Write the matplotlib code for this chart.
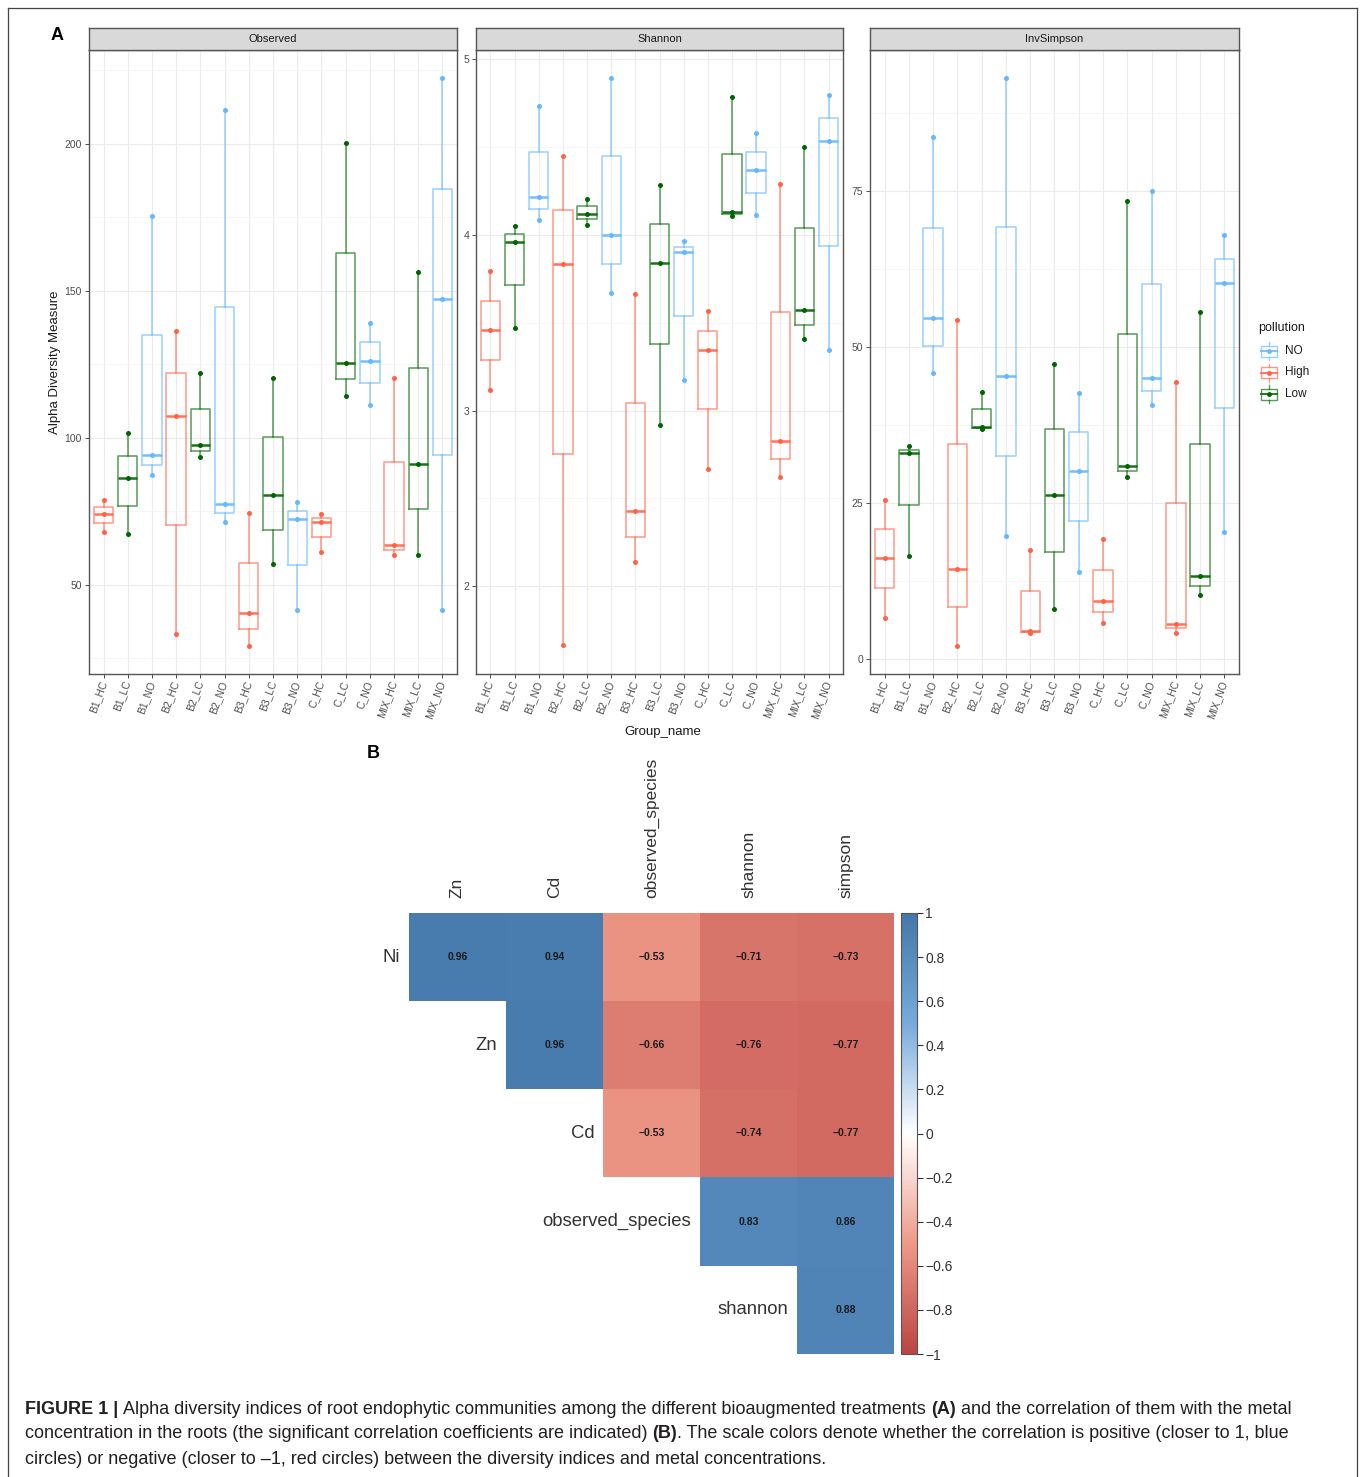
import numpy as np
import matplotlib
matplotlib.use('Agg')
import matplotlib.pyplot as plt
from matplotlib.colors import LinearSegmentedColormap
from matplotlib.patches import Rectangle

plt.rcParams['font.family'] = ['Liberation Sans', 'DejaVu Sans']

W, H = 1360, 1477

# ---- panel A data: three replicate values per group (min, median, max)
groups = ['B1_HC', 'B1_LC', 'B1_NO', 'B2_HC', 'B2_LC', 'B2_NO', 'B3_HC', 'B3_LC',
          'B3_NO', 'C_HC', 'C_LC', 'C_NO', 'MIX_HC', 'MIX_LC', 'MIX_NO']
pollution = ['High', 'Low', 'NO', 'High', 'Low', 'NO', 'High', 'Low',
             'NO', 'High', 'Low', 'NO', 'High', 'Low', 'NO']

observed = [[68, 74, 79], [67.3, 86.3, 101.5], [87.2, 94.3, 175.5], [33.3, 107.4, 136.4],
            [93.4, 97.4, 122.2], [71.3, 77.4, 211.5], [29.3, 40.5, 74.3], [57.1, 80.5, 120.3],
            [41.3, 72.4, 78.1], [61.2, 71.4, 74.1], [114.4, 125.4, 200.2], [111.2, 126.2, 139.2],
            [60.2, 63.4, 120.3], [60.2, 91.2, 156.4], [41.3, 147.3, 222.3]]
shannon = [[3.115, 3.46, 3.793], [3.473, 3.958, 4.053], [4.087, 4.214, 4.736], [1.667, 3.835, 4.451],
           [4.057, 4.121, 4.205], [3.668, 4.002, 4.892], [2.136, 2.428, 3.663], [2.918, 3.841, 4.287],
           [3.172, 3.903, 3.964], [2.67, 3.343, 3.566], [4.11, 4.131, 4.788], [4.114, 4.369, 4.58],
           [2.619, 2.826, 4.291], [3.405, 3.575, 4.503], [3.343, 4.534, 4.797]]
invsimpson = [[6.5, 16.1, 25.5], [16.4, 33.0, 34.1], [45.8, 54.6, 83.7], [2.1, 14.4, 54.4],
              [36.8, 37.2, 42.8], [19.7, 45.4, 93.1], [4.2, 4.4, 17.4], [8.0, 26.3, 47.3],
              [13.95, 30.1, 42.7], [5.7, 9.2, 19.2], [29.2, 30.9, 73.4], [40.7, 45.1, 75.0],
              [4.2, 5.5, 44.4], [10.15, 13.2, 55.7], [20.3, 60.3, 68.0]]

legend_order = ['NO', 'High', 'Low']
pal = {'NO': '#63B8FF', 'High': '#FF6347', 'Low': '#006400'}

# ---- panel B data
row_names = ['Ni', 'Zn', 'Cd', 'observed_species', 'shannon']
col_names = ['Zn', 'Cd', 'observed_species', 'shannon', 'simpson']
nan = np.nan
corr = np.array([[0.96, 0.94, -0.53, -0.71, -0.73],
                 [nan, 0.96, -0.66, -0.76, -0.77],
                 [nan, nan, -0.53, -0.74, -0.77],
                 [nan, nan, nan, 0.83, 0.86],
                 [nan, nan, nan, nan, 0.88]])
cb_ticks = [1, 0.8, 0.6, 0.4, 0.2, 0, -0.2, -0.4, -0.6, -0.8, -1]


def px(x0, y0, x1, y1):
    return [x0 / W, 1 - y1 / H, (x1 - x0) / W, (y1 - y0) / H]


fig = plt.figure(figsize=(W / 100, H / 100), dpi=100)

# overlay in pixel coords for frame, legend, labels
ov = fig.add_axes([0, 0, 1, 1])
ov.set_xlim(0, W)
ov.set_ylim(H, 0)
ov.axis('off')
ov.patch.set_alpha(0)
for xs, ys in [([8, 8], [8, H]), ([8, 1357], [8, 8]), ([1357, 1357], [8, H])]:
    ov.plot(xs, ys, color='#444444', lw=0.9)

ov.text(57, 36, 'A', fontsize=13, fontweight='bold', ha='center', va='center')
ov.text(373, 753, 'B', fontsize=13, fontweight='bold', ha='center', va='center')
ov.text(55, 362, 'Alpha Diversity Measure', rotation=90, fontsize=9.5, ha='center', va='center', color='#1a1a1a')
ov.text(663, 732, 'Group_name', fontsize=9.5, ha='center', va='center', color='#1a1a1a')


def draw_panel(x0, x1, name, vals, major, minor):
    ax = fig.add_axes(px(x0, 50, x1, 674))
    st = fig.add_axes(px(x0, 28, x1, 50))
    st.set_facecolor('#d9d9d9')
    st.set_xticks([])
    st.set_yticks([])
    for s in st.spines.values():
        s.set_color('#555555')
        s.set_linewidth(1.0)
    st.text(0.5, 0.5, name, transform=st.transAxes, ha='center', va='center', fontsize=8, color='#1a1a1a')

    for i, (p, v) in enumerate(zip(pollution, vals)):
        c = pal[p]
        ax.boxplot([v], positions=[i], widths=0.8, whis=(0, 100), showcaps=False,
                   showfliers=False, manage_ticks=False,
                   boxprops=dict(color=c, alpha=0.65, lw=1.1),
                   whiskerprops=dict(color=c, alpha=0.65, lw=1.1),
                   medianprops=dict(color=c, alpha=0.9, lw=1.8))
        ax.scatter([i] * len(v), v, s=13, color=c, lw=0, zorder=3)

    allv = np.array(vals).ravel()
    pad = 0.05 * (allv.max() - allv.min())
    ax.set_ylim(allv.min() - pad, allv.max() + pad)
    ax.set_xlim(-0.6, len(groups) - 0.4)
    ax.set_yticks(major)
    ax.set_yticks(minor, minor=True)
    ax.set_yticklabels([('%g' % t) for t in major], fontsize=7.5, color='#4d4d4d')
    ax.set_xticks(np.arange(len(groups)))
    ax.set_xticklabels(groups, rotation=70, ha='right', va='center', rotation_mode='anchor',
                       fontsize=7.5, color='#4d4d4d')
    ax.grid(which='major', color='#ebebeb', lw=0.8)
    ax.grid(which='minor', axis='y', color='#f2f2f2', lw=0.5)
    ax.set_axisbelow(True)
    ax.tick_params(which='major', length=3, width=0.6, color='#333333', pad=2)
    ax.tick_params(which='minor', length=0)
    for s in ax.spines.values():
        s.set_color('#555555')
        s.set_linewidth(1.0)
    return ax


draw_panel(89, 457, 'Observed', observed, [50, 100, 150, 200], [25, 75, 125, 175, 225])
draw_panel(476, 843, 'Shannon', shannon, [2, 3, 4, 5], [1.5, 2.5, 3.5, 4.5])
draw_panel(870, 1239, 'InvSimpson', invsimpson, [0, 25, 50, 75], [12.5, 37.5, 62.5, 87.5])

# legend
ov.text(1258, 328, 'pollution', fontsize=9, ha='left', va='center', color='#1a1a1a')
for k, lab in enumerate(legend_order):
    yc = 351 + k * 21.5
    c = pal[lab]
    ov.add_patch(Rectangle((1261, yc - 5.5), 16, 11, fill=False, ec=c, lw=1.0, alpha=0.65))
    ov.plot([1269, 1269], [yc - 9, yc - 5.5], color=c, lw=1.0, alpha=0.65)
    ov.plot([1269, 1269], [yc + 5.5, yc + 9], color=c, lw=1.0, alpha=0.65)
    ov.plot([1261, 1277], [yc, yc], color=c, lw=1.4, alpha=0.85)
    ov.plot([1269], [yc], 'o', color=c, ms=3.5, mew=0)
    ov.text(1285, yc, lab, fontsize=8.5, ha='left', va='center', color='#1a1a1a')

# ---- panel B heatmap
cmap = LinearSegmentedColormap.from_list(
    'corr', [(0, '#BB4444'), (0.25, '#EE9988'), (0.5, '#FFFFFF'), (0.75, '#77AADD'), (1, '#4477AA')])
axh = fig.add_axes(px(409, 913, 894, 1354))
im = axh.imshow(np.ma.masked_invalid(corr), cmap=cmap, vmin=-1, vmax=1, aspect='auto',
                interpolation='nearest', extent=(-0.5, 4.5, 4.5, -0.5))
axh.axis('off')
for i in range(corr.shape[0]):
    for j in range(corr.shape[1]):
        if not np.isnan(corr[i, j]):
            axh.text(j, i, ('%.2f' % corr[i, j]).replace('-', '\u2212'), ha='center', va='center',
                     fontsize=7.5, fontweight='bold', color='#1a1a1a')
    axh.text(i - 0.59, i, row_names[i], ha='right', va='center', fontsize=13.3, color='#333333')
for j, cn in enumerate(col_names):
    axh.text(j, -0.67, cn, rotation=90, ha='center', va='bottom', fontsize=12.5, color='#333333')

axc = fig.add_axes(px(901, 913, 917, 1354))
cb = fig.colorbar(im, cax=axc, ticks=cb_ticks)
cb.ax.set_yticklabels([('%g' % t).replace('-', '\u2212') for t in cb_ticks], fontsize=10, color='#333333')
cb.ax.tick_params(length=4, width=0.8, color='#333333', pad=2)
cb.outline.set_edgecolor('#555555')
cb.outline.set_linewidth(0.8)

# ---- caption
cap_lines = [
    [('FIGURE 1 | ', True), ('Alpha diversity indices of root endophytic communities among the different bioaugmented treatments ', False),
     ('(A)', True), (' and the correlation of them with the metal', False)],
    [('concentration in the roots (the significant correlation coefficients are indicated) ', False), ('(B)', True),
     ('. The scale colors denote whether the correlation is positive (closer to 1, blue', False)],
    [('circles) or negative (closer to \u20131, red circles) between the diversity indices and metal concentrations.', False)],
]
renderer = fig.canvas.get_renderer()
for li, parts in enumerate(cap_lines):
    x = 25
    y = 1409 + li * 25
    for txt, bold in parts:
        t = ov.text(x, y, txt, fontsize=12.95, fontweight='bold' if bold else 'normal',
                    ha='left', va='center', color='#231f20')
        bb = t.get_window_extent(renderer)
        x += bb.width

fig.savefig('out.png', dpi=100)
